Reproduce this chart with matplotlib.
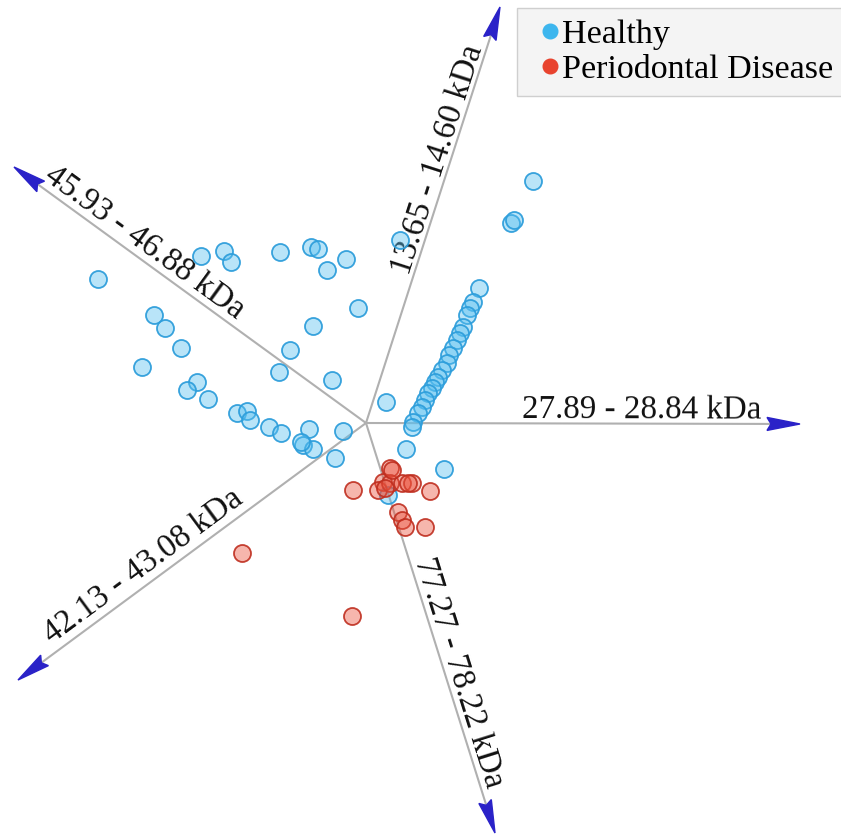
import matplotlib.pyplot as plt
import numpy as np
from matplotlib.patches import Polygon
from matplotlib.lines import Line2D

# projected positions (canvas units, y grows downwards)
healthy_x = [98, 201, 224, 231, 280, 311, 318, 327, 346, 358, 313, 154, 165, 181, 142,
             290, 279, 332, 197, 187, 208, 237, 247, 250, 269, 281, 309, 343, 303, 313,
             335, 301, 386, 400,
             533, 511, 514, 479, 473, 470, 467, 463, 460, 457, 453, 449, 447, 442, 438,
             435, 432, 428, 425, 422, 418, 413, 412, 406, 444, 388]
healthy_y = [279, 256, 251, 262, 252, 247, 249, 270, 259, 308, 326, 315, 328, 348, 367,
             350, 372, 380, 382, 390, 399, 413, 411, 420, 427, 433, 429, 431, 445, 449,
             458, 442, 402, 240,
             181, 223, 220, 288, 302, 308, 315, 327, 333, 340, 348, 355, 363, 370, 377,
             382, 388, 393, 400, 407, 413, 422, 427, 449, 469, 495]

disease_x = [390, 383, 378, 390, 402, 412, 408, 353, 430, 398, 402, 405, 425, 242, 352, 392, 385]
disease_y = [468, 482, 490, 483, 483, 483, 483, 490, 491, 512, 520, 527, 527, 553, 616, 470, 488]

# anchors (feature axes)
center = (366, 423)
anchor_names = ["13.65 - 14.60 kDa", "27.89 - 28.84 kDa", "77.27 - 78.22 kDa",
                "42.13 - 43.08 kDa", "45.93 - 46.88 kDa"]
anchor_x = [500, 800, 495, 18, 14]
anchor_y = [7, 424, 833, 680, 167]
label_pos = [0.625, 0.635, 0.62, 0.61, 0.655]
label_off = [4, 5, 5, 9, 7]

W, H = 841, 839
fig = plt.figure(figsize=(W / 100, H / 100), dpi=100)
ax = fig.add_axes([0, 0, 1, 1])
ax.set_xlim(0, W)
ax.set_ylim(H, 0)
ax.axis('off')

serif = ['Liberation Serif', 'DejaVu Serif']
head_len, head_w = 33, 6.5
for name, tx, ty, t, off in zip(anchor_names, anchor_x, anchor_y, label_pos, label_off):
    dx, dy = tx - center[0], ty - center[1]
    L = np.hypot(dx, dy)
    ux, uy = dx / L, dy / L
    ax.plot([center[0], tx - ux * head_len * 0.9], [center[1], ty - uy * head_len * 0.9],
            color='#b0b0b0', lw=1.5, zorder=1)
    bx, by = tx - ux * head_len, ty - uy * head_len
    px, py = -uy, ux
    ax.add_patch(Polygon([(tx, ty), (bx + px * head_w, by + py * head_w),
                          (bx + ux * 4, by + uy * 4),
                          (bx - px * head_w, by - py * head_w)],
                         closed=True, color='#2a22c8', zorder=2))
    # reading direction always left-to-right
    rx, ry = (ux, uy) if ux > 0 else (-ux, -uy)
    upx, upy = ry, -rx
    lx = center[0] + dx * t + upx * off
    ly = center[1] + dy * t + upy * off
    ang = np.degrees(np.arctan2(-ry, rx))
    ax.text(lx, ly, name, rotation=ang, rotation_mode='anchor', ha='center',
            va='baseline', fontsize=23.8, family=serif, color='#111111', zorder=3)

ms = 150
ax.scatter(healthy_x, healthy_y, s=ms, facecolor=(0.35, 0.75, 0.94, 0.42),
           edgecolor=(0.18, 0.62, 0.86, 0.95), linewidth=1.3, zorder=4)
ax.scatter(disease_x, disease_y, s=ms, facecolor=(0.92, 0.32, 0.24, 0.42),
           edgecolor=(0.75, 0.18, 0.12, 0.9), linewidth=1.3, zorder=5)

handles = [Line2D([], [], marker='o', ls='', color='#3db6ee', markersize=10.5),
           Line2D([], [], marker='o', ls='', color='#e8432e', markersize=10.5)]
leg = ax.legend(handles, ['Healthy', 'Periodontal Disease'], loc='upper left',
                bbox_to_anchor=(517 / W, 1 - 8 / H), borderaxespad=0,
                prop={'family': serif, 'size': 24.5},
                labelspacing=0.12, handletextpad=-0.3, handlelength=1.3,
                borderpad=0.32, frameon=True, fancybox=False, shadow=False)
leg.get_frame().set_facecolor('#f4f4f4')
leg.get_frame().set_edgecolor('#cfcfcf')
leg.get_frame().set_alpha(1)

fig.savefig('out.png', dpi=100)
